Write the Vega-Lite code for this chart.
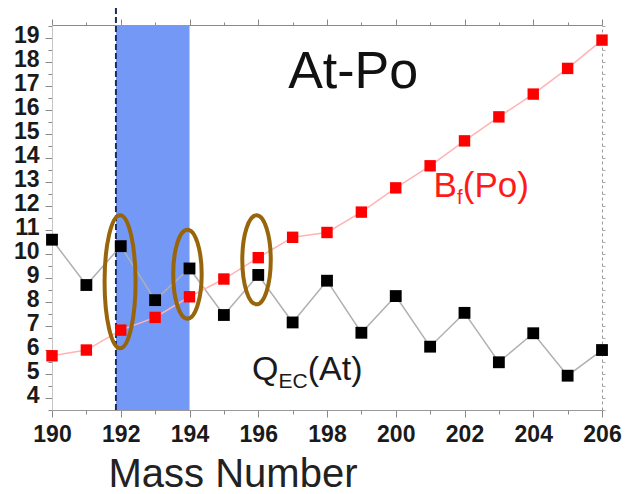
{
  "$schema": "https://vega.github.io/schema/vega-lite/v6.json",
  "width": 550,
  "height": 385,
  "autosize": {"type": "none"},
  "padding": {"left": 52, "top": 25, "right": 27, "bottom": 84},
  "background": "white",
  "config": {"view": {"stroke": null}},
  "datasets": {
    "qec": [
      {"mass": 190, "value": 10.6}, {"mass": 191, "value": 8.71}, {"mass": 192, "value": 10.33},
      {"mass": 193, "value": 8.08}, {"mass": 194, "value": 9.4}, {"mass": 195, "value": 7.46},
      {"mass": 196, "value": 9.13}, {"mass": 197, "value": 7.15}, {"mass": 198, "value": 8.89},
      {"mass": 199, "value": 6.72}, {"mass": 200, "value": 8.25}, {"mass": 201, "value": 6.14},
      {"mass": 202, "value": 7.55}, {"mass": 203, "value": 5.49}, {"mass": 204, "value": 6.7},
      {"mass": 205, "value": 4.93}, {"mass": 206, "value": 6.0}
    ],
    "bf": [
      {"mass": 190, "value": 5.76}, {"mass": 191, "value": 6.0}, {"mass": 192, "value": 6.83},
      {"mass": 193, "value": 7.36}, {"mass": 194, "value": 8.22}, {"mass": 195, "value": 8.96},
      {"mass": 196, "value": 9.85}, {"mass": 197, "value": 10.7}, {"mass": 198, "value": 10.9},
      {"mass": 199, "value": 11.75}, {"mass": 200, "value": 12.76}, {"mass": 201, "value": 13.68},
      {"mass": 202, "value": 14.72}, {"mass": 203, "value": 15.72}, {"mass": 204, "value": 16.67},
      {"mass": 205, "value": 17.74}, {"mass": 206, "value": 18.92}
    ],
    "band": [{"start": 191.86, "end": 194.0, "low": 3.5, "high": 19.55}],
    "marker": [{"mass": 191.86, "low": 3.5, "high": 20.3}],
    "ovalTall": [{"mass": 191.98, "value": 8.85}],
    "ovalShort": [{"mass": 193.94, "value": 9.16}, {"mass": 195.95, "value": 9.76}],
    "title": [{"mass": 196.87, "value": 16.92, "text": "At-Po"}],
    "bfMain": [{"mass": 201.1, "value": 12.375, "text": "B"}, {"mass": 201.95, "value": 12.375, "text": "(Po)"}],
    "bfSub": [{"mass": 201.78, "value": 12.08, "text": "f"}],
    "qMain": [{"mass": 195.82, "value": 4.75, "text": "Q"}, {"mass": 197.44, "value": 4.75, "text": "(At)"}],
    "qSub": [{"mass": 196.59, "value": 4.42, "text": "EC"}]
  },
  "resolve": {"axis": {"x": "independent", "y": "independent"}},
  "layer": [
    {
      "data": {"name": "band"},
      "mark": {"type": "rect", "fill": "#7398f5"},
      "encoding": {
        "x": {"field": "start", "type": "quantitative", "scale": {"domain": [190, 206], "nice": false, "zero": false}, "axis": null},
        "x2": {"field": "end"},
        "y": {"field": "low", "type": "quantitative", "scale": {"domain": [3.5, 19.55], "nice": false, "zero": false}, "axis": null},
        "y2": {"field": "high"}
      }
    },
    {
      "data": {"name": "marker"},
      "mark": {"type": "rule", "stroke": "#1b2d5e", "strokeWidth": 2, "strokeDash": [6, 3]},
      "encoding": {
        "x": {"field": "mass", "type": "quantitative", "axis": null},
        "y": {"field": "low", "type": "quantitative", "axis": null},
        "y2": {"field": "high"}
      }
    },
    {
      "data": {"name": "qec"},
      "mark": {"type": "line", "stroke": "#b0b0b0", "strokeWidth": 1.5},
      "encoding": {
        "x": {"field": "mass", "type": "quantitative", "axis": null},
        "y": {"field": "value", "type": "quantitative", "axis": null}
      }
    },
    {
      "data": {"name": "bf"},
      "mark": {"type": "line", "stroke": "#ffb4b4", "strokeWidth": 1.5},
      "encoding": {
        "x": {"field": "mass", "type": "quantitative", "axis": null},
        "y": {"field": "value", "type": "quantitative", "axis": null}
      }
    },
    {
      "data": {"name": "qec"},
      "mark": {"type": "point", "shape": "square", "filled": true, "fill": "#000000", "size": 140, "opacity": 1},
      "encoding": {
        "x": {
          "field": "mass", "type": "quantitative",
          "axis": {
            "orient": "bottom",
            "values": [190,191,192,193,194,195,196,197,198,199,200,201,202,203,204,205,206],
            "labelExpr": "datum.value % 2 === 0 ? format(datum.value, 'd') : ''",
            "tickSize": {"condition": {"test": "datum.value % 2 === 0", "value": 7}, "value": 4},
            "tickColor": "#888888",
            "domainColor": "#999999",
            "grid": false,
            "labelFont": "Liberation Sans",
            "labelFontWeight": "bold",
            "labelFontSize": 23,
            "labelColor": "#1a1a1a",
            "labelPadding": 6,
            "labelFlush": false,
            "labelOverlap": false,
            "title": "Mass Number",
            "titleFont": "Liberation Sans",
            "titleFontSize": 40,
            "titleFontWeight": "normal",
            "titleColor": "#222222",
            "titleAnchor": "start",
            "titleAlign": "left",
            "titleBaseline": "alphabetic",
            "titleX": 56,
            "titleY": 76
          }
        },
        "y": {
          "field": "value", "type": "quantitative",
          "axis": {
            "orient": "left",
            "values": [3.5,4,4.5,5,5.5,6,6.5,7,7.5,8,8.5,9,9.5,10,10.5,11,11.5,12,12.5,13,13.5,14,14.5,15,15.5,16,16.5,17,17.5,18,18.5,19,19.5],
            "labelExpr": "datum.value % 1 === 0 ? format(datum.value, 'd') : ''",
            "tickSize": {"condition": {"test": "datum.value % 1 === 0", "value": 7}, "value": 4},
            "tickColor": "#888888",
            "domainColor": "#c4c4c4",
            "grid": false,
            "labelFont": "Liberation Sans",
            "labelFontWeight": "bold",
            "labelFontSize": 23,
            "labelColor": "#1a1a1a",
            "labelPadding": 6,
            "labelOffset": -3,
            "labelFlush": false,
            "labelOverlap": false,
            "title": null
          }
        }
      }
    },
    {
      "data": {"name": "bf"},
      "mark": {"type": "point", "shape": "square", "filled": true, "fill": "#ff0000", "size": 130, "opacity": 1},
      "encoding": {
        "x": {
          "field": "mass", "type": "quantitative",
          "axis": {
            "orient": "top",
            "values": [190,191,192,193,194,195,196,197,198,199,200,201,202,203,204,205,206],
            "labels": false,
            "tickSize": {"condition": {"test": "datum.value % 2 === 0", "value": 6}, "value": 3},
            "tickColor": "#888888",
            "domainColor": "#8a8a8a",
            "grid": false,
            "title": null
          }
        },
        "y": {
          "field": "value", "type": "quantitative",
          "axis": {
            "orient": "right",
            "values": [3.5,4,4.5,5,5.5,6,6.5,7,7.5,8,8.5,9,9.5,10,10.5,11,11.5,12,12.5,13,13.5,14,14.5,15,15.5,16,16.5,17,17.5,18,18.5,19,19.5],
            "labels": false,
            "tickSize": 3,
            "tickColor": "#aaaaaa",
            "domainColor": "#999999",
            "domainDash": [3, 3],
            "grid": false,
            "title": null
          }
        }
      }
    },
    {
      "data": {"name": "ovalTall"},
      "mark": {
        "type": "point",
        "shape": "M0,-1C0.1287,-1,0.233,-0.5523,0.233,0C0.233,0.5523,0.1287,1,0,1C-0.1287,1,-0.233,0.5523,-0.233,0C-0.233,-0.5523,-0.1287,-1,0,-1Z",
        "size": 17689,
        "filled": false,
        "stroke": "#98650a",
        "strokeWidth": 4,
        "opacity": 1
      },
      "encoding": {
        "x": {"field": "mass", "type": "quantitative", "axis": null},
        "y": {"field": "value", "type": "quantitative", "axis": null}
      }
    },
    {
      "data": {"name": "ovalShort"},
      "mark": {
        "type": "point",
        "shape": "M0,-1C0.1767,-1,0.32,-0.5523,0.32,0C0.32,0.5523,0.1767,1,0,1C-0.1767,1,-0.32,0.5523,-0.32,0C-0.32,-0.5523,-0.1767,-1,0,-1Z",
        "size": 7921,
        "filled": false,
        "stroke": "#98650a",
        "strokeWidth": 4,
        "opacity": 1
      },
      "encoding": {
        "x": {"field": "mass", "type": "quantitative", "axis": null},
        "y": {"field": "value", "type": "quantitative", "axis": null}
      }
    },
    {
      "data": {"name": "title"},
      "mark": {"type": "text", "font": "Liberation Sans", "fontSize": 52, "color": "#111111", "align": "left", "baseline": "alphabetic"},
      "encoding": {
        "x": {"field": "mass", "type": "quantitative", "axis": null},
        "y": {"field": "value", "type": "quantitative", "axis": null},
        "text": {"field": "text"}
      }
    },
    {
      "data": {"name": "bfMain"},
      "mark": {"type": "text", "font": "Liberation Sans", "fontSize": 35, "color": "#ff1a1a", "align": "left", "baseline": "alphabetic"},
      "encoding": {
        "x": {"field": "mass", "type": "quantitative", "axis": null},
        "y": {"field": "value", "type": "quantitative", "axis": null},
        "text": {"field": "text"}
      }
    },
    {
      "data": {"name": "bfSub"},
      "mark": {"type": "text", "font": "Liberation Sans", "fontSize": 20, "color": "#ff1a1a", "align": "left", "baseline": "alphabetic"},
      "encoding": {
        "x": {"field": "mass", "type": "quantitative", "axis": null},
        "y": {"field": "value", "type": "quantitative", "axis": null},
        "text": {"field": "text"}
      }
    },
    {
      "data": {"name": "qMain"},
      "mark": {"type": "text", "font": "Liberation Sans", "fontSize": 34, "color": "#1a1a1a", "align": "left", "baseline": "alphabetic"},
      "encoding": {
        "x": {"field": "mass", "type": "quantitative", "axis": null},
        "y": {"field": "value", "type": "quantitative", "axis": null},
        "text": {"field": "text"}
      }
    },
    {
      "data": {"name": "qSub"},
      "mark": {"type": "text", "font": "Liberation Sans", "fontSize": 21, "color": "#1a1a1a", "align": "left", "baseline": "alphabetic"},
      "encoding": {
        "x": {"field": "mass", "type": "quantitative", "axis": null},
        "y": {"field": "value", "type": "quantitative", "axis": null},
        "text": {"field": "text"}
      }
    }
  ]
}
